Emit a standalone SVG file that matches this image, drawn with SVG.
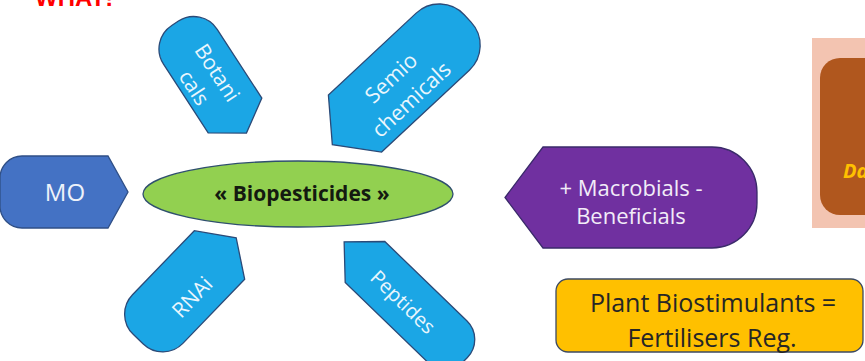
<svg xmlns="http://www.w3.org/2000/svg" width="865" height="361" viewBox="0 0 865 361">
<style>
.blue{fill:#1BA6E5;stroke:#2B4A78;stroke-width:1.3}
.bt{fill:#EAF6FD;font-family:"Open Sans",sans-serif;text-anchor:middle}
.lbl{font-family:"Open Sans",sans-serif;text-anchor:middle}
</style>
<rect width="865" height="361" fill="#ffffff"/>
<text x="35" y="6" font-family="Liberation Sans,sans-serif" font-weight="bold" font-size="24" fill="#FF0000">WHAT!</text>

<g id="regulation-box">
<rect x="812" y="38" width="60" height="190" fill="#F3C4B1"/>
<rect x="820" y="58" width="70" height="157" rx="20" fill="#B0571E"/>
<text x="843" y="178" font-family="Open Sans,sans-serif" font-weight="bold" font-style="italic" font-size="20" fill="#FFC000">Da</text>
</g>

<g id="mo">
<path d="M22 156 L108 156 L128 192 L108 228 L22 228 A22 22 0 0 1 0 206 L0 178 A22 22 0 0 1 22 156 Z" fill="#4472C4" stroke="#2F4F86" stroke-width="1.3"/>
<text class="lbl" x="65" y="201" font-size="24" fill="#EEF2FA">MO</text>
</g>

<g id="biopesticides">
<ellipse cx="298" cy="194" rx="155" ry="33" fill="#92D050" stroke="#2F4F6E" stroke-width="1.3"/>
<text class="lbl" x="302" y="201" font-size="21" font-weight="bold" fill="#141A10">« Biopesticides »</text>
</g>

<g id="botanicals">
<path class="blue" transform="translate(235 115.5) rotate(57)" d="M-82 -32 L0 -32 L21 0 L0 32 L-82 32 A28 28 0 0 1 -110 4 L-110 -4 A28 28 0 0 1 -82 -32 Z"/>
<text class="bt" transform="translate(206 80) rotate(57)" font-size="21"><tspan x="0" y="-6">Botani</tspan><tspan x="0" y="21.5">cals</tspan></text>
</g>

<g id="semiochemicals">
<path class="blue" transform="translate(355 123.5) rotate(137)" d="M-120 -39 L0 -39 L31 0 L0 39 L-120 39 A34 34 0 0 1 -154 5 L-154 -5 A34 34 0 0 1 -120 -39 Z"/>
<text class="bt" transform="translate(401 88.5) rotate(-43)" font-size="21.5"><tspan x="0" y="-7">Semio</tspan><tspan x="0" y="22.5">chemicals</tspan></text>
</g>

<g id="rnai">
<path class="blue" transform="translate(219.5 255) rotate(-46)" d="M-89 -35 L0 -35 L24 0 L0 35 L-89 35 A28 28 0 0 1 -117 7 L-117 -7 A28 28 0 0 1 -89 -35 Z"/>
<text class="bt" transform="translate(192 297) rotate(-46)" font-size="21" y="7.5">RNAi</text>
</g>

<g id="peptides">
<path class="blue" transform="translate(365 262) rotate(224)" d="M-114 -28.5 L0 -28.5 L29 0 L0 28.5 L-114 28.5 A26 26 0 0 1 -140 2.5 L-140 -2.5 A26 26 0 0 1 -114 -28.5 Z"/>
<text class="bt" transform="translate(403 302) rotate(44)" font-size="20" y="7">Peptides</text>
</g>

<g id="macrobials">
<path d="M543 147 L712 147 A45 45 0 0 1 757 192 L757 203 A45 45 0 0 1 712 248 L543 248 L505 197.5 Z" fill="#7030A0" stroke="#3A2A6A" stroke-width="1.3"/>
<text class="lbl" x="631" y="196" font-size="22" fill="#F2ECF8">+ Macrobials -</text>
<text class="lbl" x="631" y="224" font-size="22" fill="#F2ECF8">Beneficials</text>
</g>

<g id="biostimulants">
<rect x="556" y="279" width="307" height="73" rx="12" fill="#FFC000" stroke="#3C4A63" stroke-width="1.3"/>
<text class="lbl" x="713" y="312" font-size="25" fill="#262626">Plant Biostimulants =</text>
<text class="lbl" x="712" y="347" font-size="25" fill="#262626">Fertilisers Reg.</text>
</g>
</svg>
